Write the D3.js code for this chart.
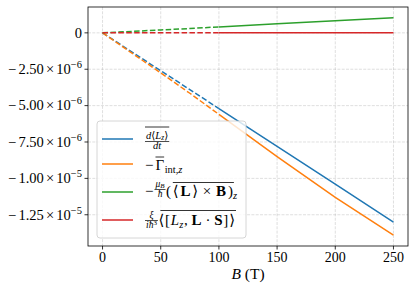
<!DOCTYPE html>
<html>
<head>
<meta charset="utf-8">
<script src="https://cdn.jsdelivr.net/npm/d3@7"></script>
<style>
  body { margin: 0; background: #fff; }
  svg text { font-family: "Liberation Serif", "DejaVu Serif", serif; fill: #000; }
</style>
</head>
<body>
<svg id="svgArea" width="415" height="290"></svg>
<script>
// field B in tesla, dashed part (low) and solid part (high)
var bLow = [0, 25, 50, 75, 100];
var bHigh = [100, 150, 200, 250];

var torqueLow = [0, -1.3e-6, -2.6e-6, -3.9e-6, -5.2e-6];
var torqueHigh = [-5.2e-6, -7.8e-6, -1.04e-5, -1.30e-5];
var gammaLow = [0, -1.38e-6, -2.75e-6, -4.15e-6, -5.6e-6];
var gammaHigh = [-5.6e-6, -8.5e-6, -1.13e-5, -1.39e-5];
var zeemanLow = [0, 0.1e-6, 0.2e-6, 0.3e-6, 0.41e-6];
var zeemanHigh = [0.41e-6, 0.62e-6, 0.83e-6, 1.03e-6];
var socLow = [0, 0, 0, 0, 0];
var socHigh = [0, 0, 0, 0];

var xTicks = [0, 50, 100, 150, 200, 250];
var yTicks = [0, -2.5e-6, -5e-6, -7.5e-6, -1e-5, -1.25e-5];
var yMant = ["", "2.50", "5.00", "7.50", "1.00", "1.25"];
var yExp = ["", "\u22126", "\u22126", "\u22126", "\u22125", "\u22125"];

var colors = ["#1f77b4", "#ff7f0e", "#2ca02c", "#d62728"];

var axLeft = 88, axRight = 408, axTop = 7, axBottom = 246;

var svg = d3.select("#svgArea");

var x = d3.scaleLinear().domain([-12.5, 262.5]).range([axLeft, axRight]);
var y = d3.scaleLinear().domain([-1.4647e-5, 1.777e-6]).range([axBottom, axTop]);

// lays text pieces left to right; when target is set, spreads
// the missing width over the gaps between non-attached pieces
function row(g, x0, base, pieces, target) {
    var extra = 0;
    if (target) {
        var tmp = g.append("g");
        var natural = row(tmp, x0, base, pieces).end;
        tmp.remove();
        var n = pieces.filter(function (p, i) { return i > 0 && !p.att; }).length;
        if (n > 0 && target > natural) extra = (target - natural) / n;
    }
    var cx = x0, ext = { x1: null, x2: null };
    pieces.forEach(function (p, i) {
        cx += p.gap || 0;
        if (i > 0 && !p.att) cx += extra;
        var t = g.append("text")
            .attr("x", cx).attr("y", base + (p.dy || 0))
            .attr("font-size", p.size || 15)
            .text(p.t);
        if (p.it) t.attr("font-style", "italic");
        if (p.bf) t.attr("font-weight", "bold");
        var w = t.node().getComputedTextLength();
        if (p.ov) {
            if (ext.x1 === null) ext.x1 = cx;
            ext.x2 = cx + w;
        }
        cx += w + (p.after || 0);
    });
    ext.end = cx;
    return ext;
}

function frac(g, x0, barY, num, den) {
    var gn = g.append("g"), gd = g.append("g");
    var wn = row(gn, 0, barY - 3, num).end;
    var wd = row(gd, 0, barY + 7.5, den).end;
    var w = Math.max(wn, wd) + 2;
    gn.attr("transform", "translate(" + (x0 + (w - wn) / 2) + ",0)");
    gd.attr("transform", "translate(" + (x0 + (w - wd) / 2) + ",0)");
    g.append("line")
        .attr("x1", x0).attr("x2", x0 + w)
        .attr("y1", barY).attr("y2", barY)
        .attr("stroke", "#000").attr("stroke-width", 0.7);
    return x0 + w;
}

function overline(g, x1, x2, yy) {
    g.append("line")
        .attr("x1", x1).attr("x2", x2)
        .attr("y1", yy).attr("y2", yy)
        .attr("stroke", "#000").attr("stroke-width", 0.8);
}

// grid
var grid = svg.append("g");
xTicks.forEach(function (t) {
    grid.append("line")
        .attr("x1", x(t)).attr("x2", x(t))
        .attr("y1", axTop).attr("y2", axBottom)
        .attr("stroke", "#b0b0b0").attr("stroke-opacity", 0.5)
        .attr("stroke-width", 0.8).attr("stroke-dasharray", "3,1.3");
});
yTicks.forEach(function (t) {
    grid.append("line")
        .attr("x1", axLeft).attr("x2", axRight)
        .attr("y1", y(t)).attr("y2", y(t))
        .attr("stroke", "#b0b0b0").attr("stroke-opacity", 0.5)
        .attr("stroke-width", 0.8).attr("stroke-dasharray", "3,1.3");
});

// lines
var line = d3.line()
    .x(function (d) { return x(d[0]); })
    .y(function (d) { return y(d[1]); });

var series = [
    [torqueLow, torqueHigh],
    [gammaLow, gammaHigh],
    [zeemanLow, zeemanHigh],
    [socLow, socHigh]
];

series.forEach(function (s, i) {
    svg.append("path")
        .datum(d3.zip(bLow, s[0]))
        .attr("d", line)
        .attr("fill", "none")
        .attr("stroke", colors[i])
        .attr("stroke-width", 1.5)
        .attr("stroke-dasharray", "5.5,2.4");
    svg.append("path")
        .datum(d3.zip(bHigh, s[1]))
        .attr("d", line)
        .attr("fill", "none")
        .attr("stroke", colors[i])
        .attr("stroke-width", 1.5);
});

// frame
svg.append("rect")
    .attr("x", axLeft).attr("y", axTop)
    .attr("width", axRight - axLeft).attr("height", axBottom - axTop)
    .attr("fill", "none").attr("stroke", "#000").attr("stroke-width", 0.8);

// x axis ticks
xTicks.forEach(function (t) {
    svg.append("line")
        .attr("x1", x(t)).attr("x2", x(t))
        .attr("y1", axBottom).attr("y2", axBottom + 3.5)
        .attr("stroke", "#000").attr("stroke-width", 0.8);
    svg.append("text")
        .text(t)
        .attr("x", x(t)).attr("y", 262)
        .attr("text-anchor", "middle")
        .attr("font-size", 14);
});

// y axis ticks
yTicks.forEach(function (t, i) {
    svg.append("line")
        .attr("x1", axLeft - 3.5).attr("x2", axLeft)
        .attr("y1", y(t)).attr("y2", y(t))
        .attr("stroke", "#000").attr("stroke-width", 0.8);
    var g = svg.append("g");
    if (t === 0) {
        var end = row(g, 0, y(t) + 4.8, [{ t: "0", size: 14.5 }]).end;
        g.attr("transform", "translate(" + (axLeft - 6 - end) + ",0)");
    } else {
        row(g, 8, y(t) + 4.8, [
            { t: "\u2212", size: 14.5, after: 1.5 },
            { t: yMant[i], size: 14.5 },
            { t: "\u00d7", size: 14.5, gap: 1.5, after: 1.5 },
            { t: "10", size: 14.5 },
            { t: yExp[i], size: 10.5, dy: -6, att: true }
        ], 82);
    }
});

// x label
var xl = svg.append("text")
    .attr("x", (axLeft + axRight) / 2).attr("y", 279)
    .attr("text-anchor", "middle")
    .attr("font-size", 15.5);
xl.append("tspan").text("B").attr("font-style", "italic");
xl.append("tspan").text(" (T)");

// legend
var leg = svg.append("g");
leg.append("rect")
    .attr("x", 97).attr("y", 121)
    .attr("width", 149).attr("height", 117)
    .attr("rx", 3)
    .attr("fill", "#fff").attr("fill-opacity", 0.8)
    .attr("stroke", "#cccccc").attr("stroke-width", 0.8);

var rowY = [139, 164, 192, 220];
rowY.forEach(function (ry, i) {
    leg.append("line")
        .attr("x1", 102).attr("x2", 133)
        .attr("y1", ry).attr("y2", ry)
        .attr("stroke", colors[i]).attr("stroke-width", 1.5);
});

var tx = 145;

// label 1: overline of d<L_z>/dt
var e1 = frac(leg, tx, 141.5,
    [{ t: "d", size: 10.5, it: true }, { t: "\u27e8", size: 10.5 }, { t: "L", size: 10.5, it: true },
     { t: "z", size: 7.5, it: true, dy: 1.5 }, { t: "\u27e9", size: 10.5 }],
    [{ t: "dt", size: 10.5, it: true }]);
overline(leg, tx, e1, 127);

// label 2: -Gamma_int,z
var e2 = row(leg, tx, 170, [
    { t: "\u2212", after: 2 },
    { t: "\u0393", ov: true, after: 0.5 },
    { t: "int,", size: 10.5, dy: 3 },
    { t: "z", size: 10.5, it: true, dy: 3 }
]);
overline(leg, e2.x1, e2.x2, 157);

// label 3: -(mu_B/hbar) overline(<L> x B)_z
var m3 = row(leg, tx, 196, [{ t: "\u2212", after: 1 }]).end;
var f3 = frac(leg, m3, 189.5,
    [{ t: "\u03bc", size: 9.5, it: true }, { t: "B", size: 7, it: true, dy: 1.5 }],
    [{ t: "\u0127", size: 9.5, it: true }]);
var e3 = row(leg, f3 + 0.5, 196, [
    { t: "(" },
    { t: "\u27e8", ov: true },
    { t: "L", bf: true, ov: true },
    { t: "\u27e9", ov: true },
    { t: "\u00d7", gap: 3, after: 3, ov: true },
    { t: "B", bf: true, ov: true },
    { t: ")", ov: true },
    { t: "z", size: 10.5, it: true, dy: 3, att: true }
], 237);
overline(leg, e3.x1, e3.x2 + 1, 182.5);

// label 4: xi/(i hbar^3) overline(<[L_z, L.S]>)
var f4 = frac(leg, tx, 220.5,
    [{ t: "\u03be", size: 9.5, it: true }],
    [{ t: "i\u0127", size: 9.5, it: true }, { t: "3", size: 7, dy: -3 }]);
var e4 = row(leg, f4 + 0.5, 225, [
    { t: "\u27e8", ov: true },
    { t: "[", ov: true },
    { t: "L", it: true, ov: true },
    { t: "z", size: 10.5, it: true, dy: 3, ov: true, att: true },
    { t: ",", ov: true, after: 3 },
    { t: "L", bf: true, ov: true },
    { t: "\u00b7", gap: 3, after: 3, ov: true },
    { t: "S", bf: true, ov: true },
    { t: "]", ov: true },
    { t: "\u27e9", ov: true }
], 235);
overline(leg, e4.x1 + 2, e4.x2 + 1, 210.5);
</script>
</body>
</html>
